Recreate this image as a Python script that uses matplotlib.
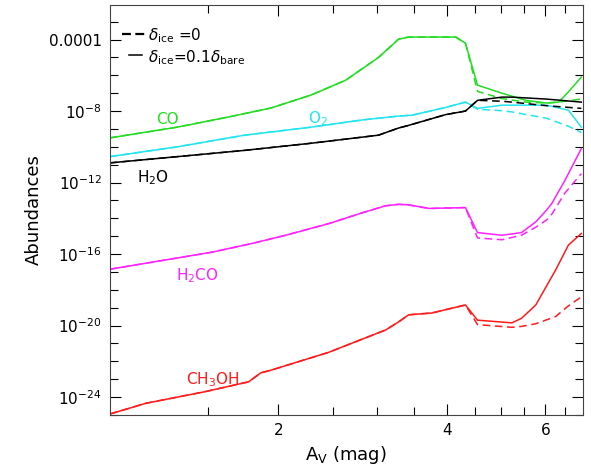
import numpy as np
import matplotlib.pyplot as plt
from matplotlib.ticker import FixedLocator, NullFormatter

# log10 abundances vs A_V
co_av = [1.0, 1.32, 1.63, 1.94, 2.29, 2.64, 3.02, 3.28, 3.42, 4.15, 4.32, 4.54, 5.02, 5.54, 6.03, 6.34, 6.6, 6.96]
co_sol = [-9.5, -8.9, -8.33, -7.83, -7.1, -6.27, -5.0, -3.98, -3.86, -3.86, -4.2, -6.55, -7.0, -7.4, -7.55, -7.5, -6.93, -6.1]
co_dash = [-9.5, -8.9, -8.33, -7.83, -7.1, -6.27, -5.0, -3.98, -3.86, -3.86, -4.2, -6.9, -7.3, -7.5, -7.55, -7.5, -7.42, -7.33]

o2_av = [1.0, 1.32, 1.74, 2.29, 2.82, 3.28, 3.47, 3.98, 4.32, 4.54, 5.02, 5.23, 6.03, 6.6, 6.96]
o2_sol = [-10.55, -10.0, -9.35, -8.9, -8.5, -8.28, -8.23, -7.8, -7.5, -7.85, -7.67, -7.67, -7.67, -7.95, -8.9]
o2_dash = [-10.55, -10.0, -9.35, -8.9, -8.5, -8.28, -8.23, -7.8, -7.5, -7.9, -7.98, -8.05, -8.4, -8.85, -9.2]

h2o_av = [1.0, 1.32, 1.74, 2.29, 3.02, 3.28, 3.42, 3.98, 4.32, 4.54, 5.02, 5.23, 6.03, 6.96]
h2o_sol = [-10.9, -10.55, -10.2, -9.8, -9.35, -8.95, -8.8, -8.2, -8.0, -7.4, -7.22, -7.22, -7.33, -7.5]
h2o_dash = [-10.9, -10.55, -10.2, -9.8, -9.35, -8.95, -8.8, -8.2, -8.0, -7.4, -7.45, -7.5, -7.7, -7.85]

h2co_av = [1.0, 1.52, 1.8, 2.06, 2.46, 2.82, 3.11, 3.28, 3.42, 3.72, 4.32, 4.54, 5.02, 5.44, 5.77, 6.03, 6.17, 6.5, 6.96]
h2co_sol = [-16.85, -15.9, -15.4, -14.95, -14.3, -13.7, -13.3, -13.22, -13.25, -13.45, -13.4, -14.8, -14.95, -14.8, -14.2, -13.55, -13.15, -11.9, -10.1]
h2co_dash = [-16.85, -15.9, -15.4, -14.95, -14.3, -13.7, -13.3, -13.22, -13.25, -13.45, -13.4, -15.1, -15.2, -14.95, -14.5, -14.1, -13.75, -12.6, -11.5]

ch3oh_av = [1.0, 1.16, 1.48, 1.77, 1.86, 1.94, 2.46, 3.11, 3.28, 3.42, 3.76, 4.32, 4.54, 5.23, 5.44, 5.77, 6.26, 6.6, 6.96]
ch3oh_sol = [-24.95, -24.35, -23.7, -23.15, -22.65, -22.5, -21.5, -20.25, -19.8, -19.4, -19.3, -18.85, -19.7, -19.85, -19.6, -18.85, -16.9, -15.5, -14.85]
ch3oh_dash = [-24.95, -24.35, -23.7, -23.15, -22.65, -22.5, -21.5, -20.25, -19.8, -19.4, -19.3, -18.85, -19.95, -20.1, -20.05, -19.9, -19.5, -18.9, -18.4]

species = [
    (co_av, co_sol, co_dash, '#22dd22'),
    (o2_av, o2_sol, o2_dash, '#22e5f0'),
    (h2o_av, h2o_sol, h2o_dash, 'black'),
    (h2co_av, h2co_sol, h2co_dash, '#ff22ff'),
    (ch3oh_av, ch3oh_sol, ch3oh_dash, '#ff1a1a'),
]

fig = plt.figure(figsize=(5.91, 4.72), dpi=100)
ax = fig.add_axes([0.186, 0.121, 0.800, 0.869])

for av, sol, dash, c in species:
    ax.plot(av, 10.0 ** np.array(dash), color=c, lw=1.1, ls=(0, (5, 3)))
    ax.plot(av, 10.0 ** np.array(sol), color=c, lw=1.1)

ax.set_xscale('log')
ax.set_yscale('log')
ax.set_xlim(1.0, 7.0)
ax.set_ylim(10 ** -25.0, 10 ** -2.05)

ax.xaxis.set_major_locator(FixedLocator([2, 4, 6]))
ax.xaxis.set_minor_locator(FixedLocator([1.5, 2.5, 3, 3.5, 4.5, 5, 5.5, 6.5]))
ax.xaxis.set_minor_formatter(NullFormatter())
ax.set_xticklabels(['2', '4', '6'])

ax.yaxis.set_major_locator(FixedLocator([1e-24, 1e-20, 1e-16, 1e-12, 1e-8, 1e-4]))
ax.yaxis.set_minor_locator(FixedLocator([10.0 ** k for k in range(-25, -2)]))
ax.yaxis.set_minor_formatter(NullFormatter())
ax.set_yticklabels([r'$10^{-24}$', r'$10^{-20}$', r'$10^{-16}$', r'$10^{-12}$', r'$10^{-8}$', '0.0001'])

ax.tick_params(which='both', direction='in', top=True, right=True, labelsize=11, width=0.8)
ax.tick_params(which='major', length=8, pad=6)
ax.tick_params(which='minor', length=6)
for s in ax.spines.values():
    s.set_linewidth(0.8)
    s.set_color('#444444')

ax.set_xlabel(r'A$_{\rm V}$ (mag)', fontsize=13)
ax.set_ylabel('Abundances', fontsize=13)

ax.text(1.21, 10 ** -8.7, 'CO', color='#22dd22', fontsize=11)
ax.text(2.26, 10 ** -8.7, r'O$_2$', color='#22e5f0', fontsize=11)
ax.text(1.12, 10 ** -12.0, r'H$_2$O', color='black', fontsize=11)
ax.text(1.31, 10 ** -17.45, r'H$_2$CO', color='#ff22ff', fontsize=11)
ax.text(1.37, 10 ** -23.3, r'CH$_3$OH', color='#ff1a1a', fontsize=11)

# legend drawn by hand like the original
ax.plot([1.05, 1.16], [10 ** -3.7, 10 ** -3.7], color='black', lw=1.6, ls=(0, (4, 2)))
ax.plot([1.08, 1.14], [10 ** -4.85, 10 ** -4.85], color='black', lw=1.1)
ax.text(1.17, 10 ** -4.05, r'$\delta_{\rm ice}$ =0', fontsize=11)
ax.text(1.17, 10 ** -5.25, r'$\delta_{\rm ice}$=0.1$\delta_{\rm bare}$', fontsize=11)

fig.savefig('out.png', dpi=100)
